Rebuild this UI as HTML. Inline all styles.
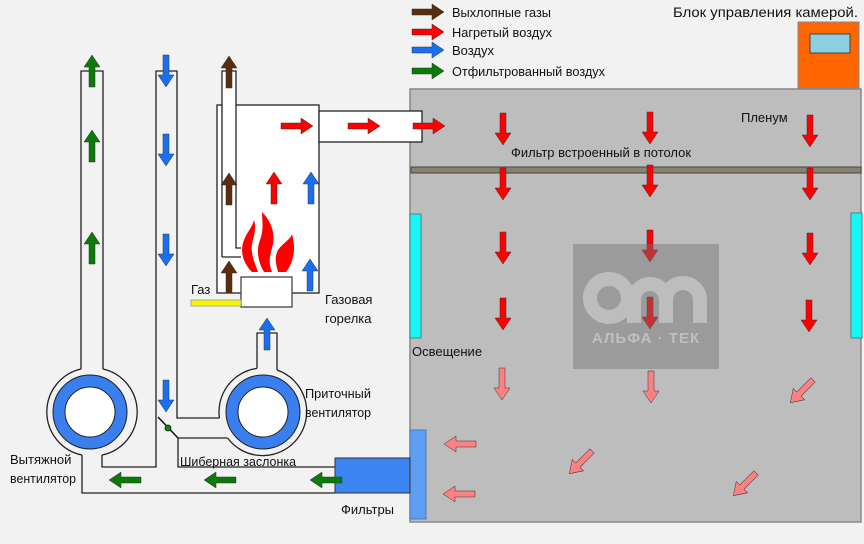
<!DOCTYPE html>
<html><head><meta charset="utf-8"><style>
html,body{margin:0;padding:0;background:#f2f2f2}
svg{display:block}
text{font-family:"Liberation Sans","DejaVu Sans",sans-serif;font-size:13px;fill:#111}
</style></head><body>
<svg width="864" height="544" viewBox="0 0 864 544" xmlns="http://www.w3.org/2000/svg">
<defs>
<path id="a" d="M0,-3 H20 V-8 L32,0 L20,8 V3 H0 Z"/>
</defs>
<rect width="864" height="544" fill="#f2f2f2"/>

<!-- chamber -->
<rect x="410" y="89" width="451" height="433" fill="#bdbdbd" stroke="#888" stroke-width="1.5"/>
<rect x="411" y="167" width="450" height="6" fill="#8a8270" stroke="#444" stroke-width="1"/>
<rect x="410" y="214" width="11" height="124" fill="#19f5f5" stroke="#3a8a8a" stroke-width="1"/>
<rect x="851" y="213" width="11" height="125" fill="#19f5f5" stroke="#3a8a8a" stroke-width="1"/>
<rect x="410" y="430" width="16" height="89" fill="#5f9ef2" stroke="#4a7ac0" stroke-width="1"/>

<!-- control box -->
<rect x="798" y="22" width="61" height="66" fill="#ff6600" stroke="#888" stroke-width="1"/>
<rect x="810" y="34" width="40" height="19" fill="#8ccfe0" stroke="#444" stroke-width="1"/>

<!-- ducts left -->
<g fill="none" stroke="#222" stroke-width="1.3">
<polyline points="81,369 81,71 103,71 103,369"/>
<path d="M103,369 A44,44 0 0 1 102,455"/>
<path d="M81,369 A44,44 0 0 0 82,455"/>
<polyline points="82,455 82,493 335,493"/>
<polyline points="102,455 102,467 156,467 156,71 177,71 177,418 219.4,418"/>
<polyline points="227.5,438 178,438 178,467 335,467"/>
<polyline points="257,368.4 257,333 277,333 277,370"/>
<path d="M277,370 A44,44 0 1 1 227.5,438"/>
<path d="M257,368.4 A44,44 0 0 0 219.4,418"/>
</g>
<circle cx="90" cy="412" r="37" fill="#3a7fef" stroke="#222" stroke-width="1"/>
<circle cx="90" cy="412" r="25" fill="#fff" stroke="#222" stroke-width="1"/>
<circle cx="263" cy="412" r="37" fill="#3a7fef" stroke="#222" stroke-width="1"/>
<circle cx="263" cy="412" r="25" fill="#fff" stroke="#222" stroke-width="1"/>
<line x1="158" y1="417" x2="178" y2="438" stroke="#111" stroke-width="1.5"/>
<circle cx="168" cy="428" r="3" fill="#0a8a0a" stroke="#111" stroke-width="0.8"/>

<!-- burner -->
<rect x="217" y="105" width="102" height="188" fill="#fff" stroke="#222" stroke-width="1.3"/>
<polyline points="222,257 222,71 236,71 236,248 241,248" fill="#fff" stroke="#222" stroke-width="1.3"/>
<line x1="222" y1="257" x2="241" y2="257" stroke="#222" stroke-width="1.3"/>
<rect x="319" y="111" width="103" height="31" fill="#fff" stroke="#222" stroke-width="1.3"/>
<rect x="241" y="277" width="51" height="30" fill="#fff" stroke="#444" stroke-width="1.3"/>
<rect x="191" y="300" width="50" height="6" fill="#f5f500" stroke="#999" stroke-width="0.8"/>
<!-- flame -->
<g fill="#ff0000">
<path d="M252,272 C242,262 240,250 244,240 C247,232 252,228 254,220 C258,232 250,242 252,252 C253,260 256,266 258,272 Z"/>
<path d="M264,272 C258,262 256,250 260,240 C264,230 262,220 262,212 C272,222 276,235 272,248 C270,256 268,262 272,272 Z"/>
<path d="M278,272 C276,264 274,258 278,250 C284,242 290,240 292,234 C296,248 294,262 286,272 Z"/>
</g>

<!-- arrows -->
<g stroke="#333" stroke-width="0.5">
<use href="#a" fill="#5a2d0c" transform="translate(412,12)"/>
<use href="#a" fill="#ff0000" transform="translate(412,32)"/>
<use href="#a" fill="#1a6ff0" transform="translate(412,50)"/>
<use href="#a" fill="#0a7a0a" transform="translate(412,71)"/>

<use href="#a" fill="#0a7a0a" transform="translate(92,87) rotate(-90)"/>
<use href="#a" fill="#0a7a0a" transform="translate(92,162) rotate(-90)"/>
<use href="#a" fill="#0a7a0a" transform="translate(92,264) rotate(-90)"/>

<use href="#a" fill="#1a6ff0" transform="translate(166,55) rotate(90)"/>
<use href="#a" fill="#1a6ff0" transform="translate(166,134) rotate(90)"/>
<use href="#a" fill="#1a6ff0" transform="translate(166,234) rotate(90)"/>
<use href="#a" fill="#1a6ff0" transform="translate(166,380) rotate(90)"/>

<use href="#a" fill="#5a2d0c" transform="translate(229,88) rotate(-90)"/>
<use href="#a" fill="#5a2d0c" transform="translate(229,205) rotate(-90)"/>
<use href="#a" fill="#5a2d0c" transform="translate(229,293) rotate(-90)"/>

<use href="#a" fill="#ff0000" transform="translate(274,204) rotate(-90)"/>
<use href="#a" fill="#1a6ff0" transform="translate(311,204) rotate(-90)"/>
<use href="#a" fill="#1a6ff0" transform="translate(310,291) rotate(-90)"/>
<use href="#a" fill="#1a6ff0" transform="translate(267,350) rotate(-90)"/>

<use href="#a" fill="#ff0000" transform="translate(281,126)"/>
<use href="#a" fill="#ff0000" transform="translate(348,126)"/>
<use href="#a" fill="#ff0000" transform="translate(413,126)"/>

<use href="#a" fill="#ff0000" transform="translate(503,113) rotate(90)"/>
<use href="#a" fill="#ff0000" transform="translate(503,168) rotate(90)"/>
<use href="#a" fill="#ff0000" transform="translate(503,232) rotate(90)"/>
<use href="#a" fill="#ff0000" transform="translate(503,298) rotate(90)"/>
<use href="#a" fill="#ff0000" transform="translate(650,112) rotate(90)"/>
<use href="#a" fill="#ff0000" transform="translate(650,165) rotate(90)"/>
<use href="#a" fill="#ff0000" transform="translate(650,230) rotate(90)"/>
<use href="#a" fill="#ff0000" transform="translate(650,297) rotate(90)"/>
<use href="#a" fill="#ff0000" transform="translate(810,115) rotate(90)"/>
<use href="#a" fill="#ff0000" transform="translate(810,168) rotate(90)"/>
<use href="#a" fill="#ff0000" transform="translate(810,233) rotate(90)"/>
<use href="#a" fill="#ff0000" transform="translate(809,300) rotate(90)"/>

<use href="#a" fill="#ff8080" transform="translate(502,368) rotate(90)"/>
<use href="#a" fill="#ff8080" transform="translate(651,371) rotate(90)"/>
<use href="#a" fill="#ff8080" transform="translate(813,380) rotate(135)"/>
<use href="#a" fill="#ff8080" transform="translate(592,451) rotate(135)"/>
<use href="#a" fill="#ff8080" transform="translate(756,473) rotate(135)"/>
<use href="#a" fill="#ff8080" transform="translate(476,444) rotate(180)"/>
<use href="#a" fill="#ff8080" transform="translate(475,494) rotate(180)"/>

<use href="#a" fill="#0a7a0a" transform="translate(141,480) rotate(180)"/>
<use href="#a" fill="#0a7a0a" transform="translate(236,480) rotate(180)"/>
</g>

<!-- filter block -->
<rect x="335" y="458" width="75" height="35" fill="#3a85f2" stroke="#333" stroke-width="1"/>
<use href="#a" fill="#0a7a0a" stroke="#333" stroke-width="0.5" transform="translate(342,480) rotate(180)"/>

<!-- watermark -->
<rect x="573" y="244" width="146" height="125" fill="#707070" opacity="0.45"/>
<g fill="none" stroke="#c4c4c4" stroke-width="14" opacity="0.85">
<circle cx="609" cy="298" r="19"/>
<path d="M634,323 V300 a16,16 0 0 1 32,0 V323"/>
<path d="M666,300 a17,17 0 0 1 34,0 V323"/>
</g>
<text x="646" y="343" text-anchor="middle" style="font-size:15px;font-weight:bold;fill:#c4c4c4;letter-spacing:1px" opacity="0.9">АЛЬФА · ТЕК</text>

<!-- labels -->
<text x="452" y="17" textLength="99" lengthAdjust="spacingAndGlyphs">Выхлопные газы</text>
<text x="452" y="37" textLength="100" lengthAdjust="spacingAndGlyphs">Нагретый воздух</text>
<text x="452" y="55">Воздух</text>
<text x="452" y="76" textLength="153" lengthAdjust="spacingAndGlyphs">Отфильтрованный воздух</text>
<text x="673" y="17" style="font-size:14px" textLength="185" lengthAdjust="spacingAndGlyphs">Блок управления камерой.</text>
<text x="741" y="122">Пленум</text>
<text x="511" y="157" textLength="180" lengthAdjust="spacingAndGlyphs">Фильтр встроенный в потолок</text>
<text x="412" y="356">Освещение</text>
<text x="191" y="294">Газ</text>
<text x="325" y="304">Газовая</text>
<text x="325" y="323">горелка</text>
<text x="305" y="398" textLength="66" lengthAdjust="spacingAndGlyphs">Приточный</text>
<text x="305" y="417" textLength="66" lengthAdjust="spacingAndGlyphs">вентилятор</text>
<text x="10" y="464">Вытяжной</text>
<text x="10" y="483" textLength="66" lengthAdjust="spacingAndGlyphs">вентилятор</text>
<text x="180" y="466" textLength="116" lengthAdjust="spacingAndGlyphs">Шиберная заслонка</text>
<text x="341" y="514">Фильтры</text>
</svg>
</body></html>
